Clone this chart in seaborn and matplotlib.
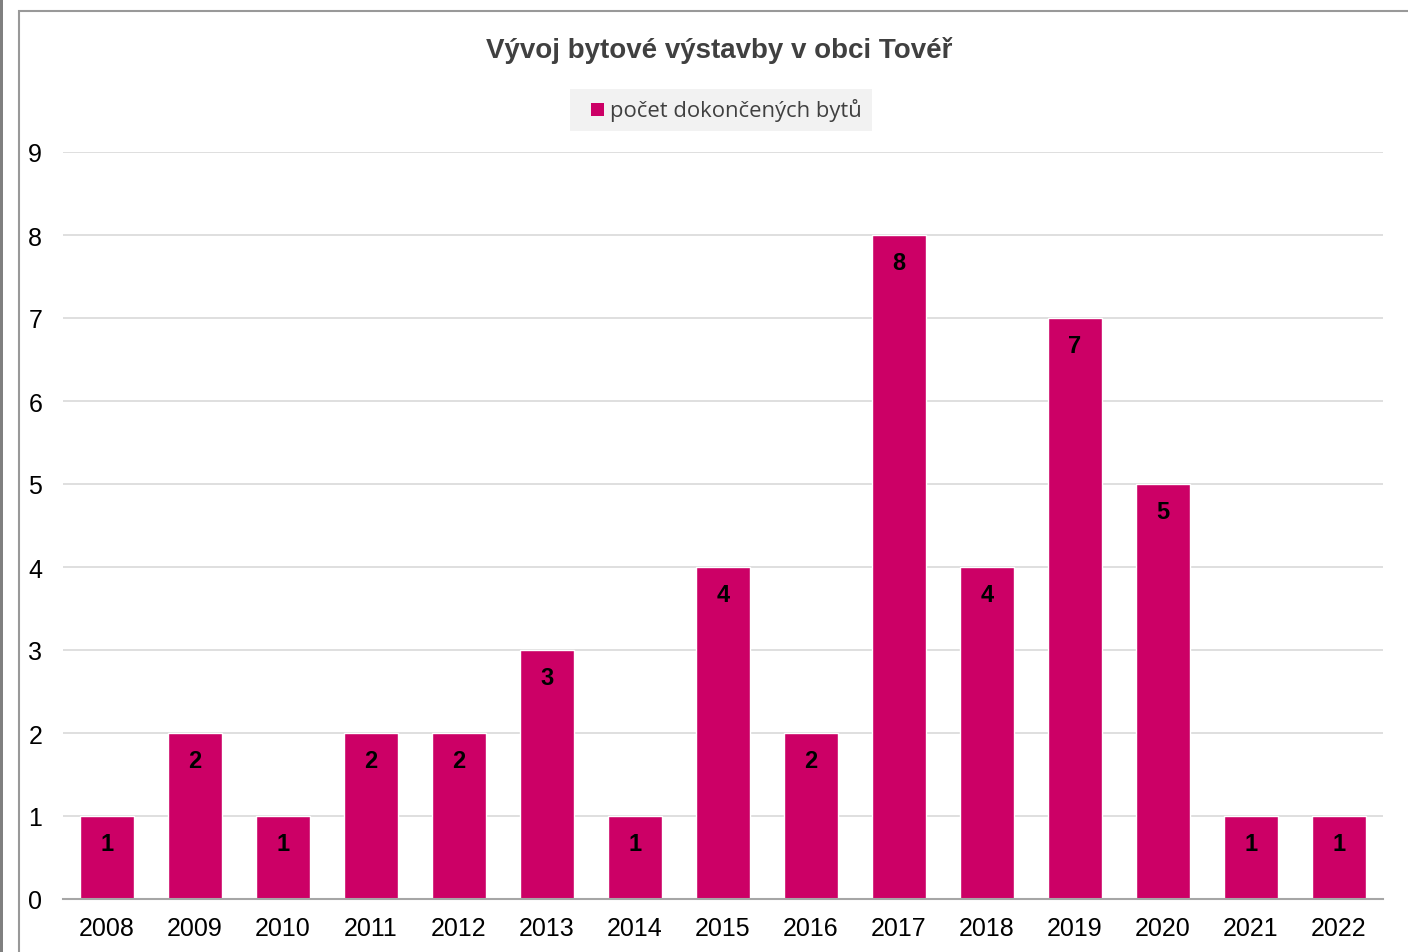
import matplotlib
matplotlib.use("Agg")
import matplotlib.pyplot as plt
import seaborn as sns
import pandas as pd
from matplotlib.patches import Rectangle

years = ["2008", "2009", "2010", "2011", "2012", "2013", "2014", "2015",
         "2016", "2017", "2018", "2019", "2020", "2021", "2022"]
values = [1, 2, 1, 2, 2, 3, 1, 4, 2, 8, 4, 7, 5, 1, 1]
series_name = "počet dokončených bytů"
title = "Vývoj bytové výstavby v obci Tovéř"
yticks = list(range(0, 10))

sns.set_theme(style="white")
plt.rcParams['font.family'] = ['Liberation Sans', 'DejaVu Sans']

df = pd.DataFrame({"rok": years, "pocet": values, "serie": series_name})

fig = plt.figure(figsize=(14.08, 9.53), dpi=100)
W, H = 1408, 953
ax = fig.add_axes([63 / W, 1 - 900 / H, (1383 - 63) / W, (900 - 153) / H])

bar_color = "#CC0066"
sns.barplot(data=df, x="rok", y="pocet", hue="serie", palette=[bar_color],
            width=0.61, ax=ax, legend=False, saturation=1)

ax.set_xlim(-0.5, len(years) - 0.5)
ax.set_ylim(0, 9)
ax.set_yticks(yticks)
ax.set_yticklabels([str(t) for t in yticks])
ax.set_xlabel("")
ax.set_ylabel("")
ax.tick_params(axis="both", length=0, labelsize=18, colors="black")
ax.tick_params(axis="y", pad=15)
ax.tick_params(axis="x", pad=12)

ax.grid(axis="y", color="#d9d9d9", linewidth=1.2)
ax.set_axisbelow(True)
for s in ["left", "right", "top"]:
    ax.spines[s].set_visible(False)
ax.spines["bottom"].set_color("#a6a6a6")
ax.spines["bottom"].set_linewidth(1.5)

for container in ax.containers:
    ax.bar_label(container, labels=[str(v) for v in values], label_type="edge",
                 padding=-28, fontsize=17, fontweight="bold", color="black")

# Title
fig.text(719 / W, 1 - 50 / H, title, ha="center", va="center",
         fontsize=20, fontweight="bold", color="#404040",
         family=['Liberation Sans Narrow', 'Liberation Sans', 'DejaVu Sans'])

# Legend box
fig.patches.append(Rectangle((570 / W, 1 - 132 / H), (872 - 570) / W, 42 / H,
                             transform=fig.transFigure, facecolor="#f2f2f2",
                             edgecolor="none", zorder=0))
fig.patches.append(Rectangle((591 / W, 1 - 117 / H), 13 / W, 13 / H,
                             transform=fig.transFigure, facecolor=bar_color,
                             edgecolor="none", zorder=1))
fig.text(610 / W, 1 - 110 / H, series_name, ha="left", va="center",
         fontsize=15.8, color="#404040",
         family=['Open Sans', 'DejaVu Sans'])

# Frame
fig.patches.append(Rectangle((19 / W, -0.05), 1.1, 1 - 12 / H + 0.05,
                             transform=fig.transFigure, facecolor="none",
                             edgecolor="#999999", linewidth=1.5, zorder=2))
fig.patches.append(Rectangle((0, 0), 3 / W, 1, transform=fig.transFigure,
                             facecolor="#808080", edgecolor="none", zorder=2))

fig.savefig("out.png", dpi=100)
